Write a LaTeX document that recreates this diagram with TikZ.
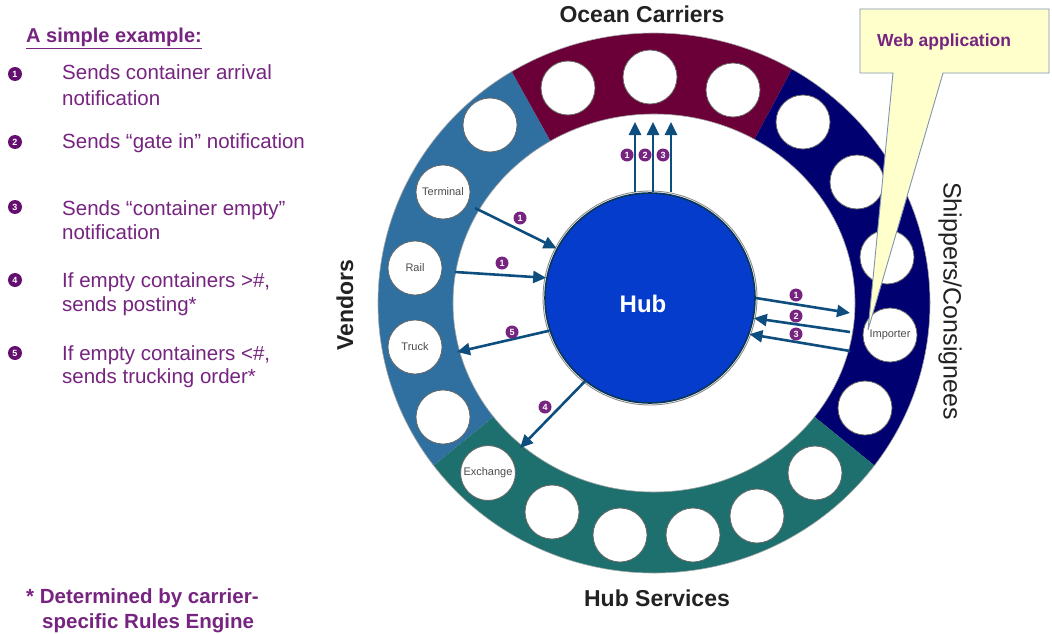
\documentclass[tikz,border=0pt]{standalone}
\usepackage{fontspec}
\setmainfont{Liberation Sans}
\usetikzlibrary{arrows.meta}
\definecolor{ptext}{RGB}{118,36,128}
\definecolor{pdark}{RGB}{100,14,112}
\definecolor{vendc}{RGB}{48,112,160}
\definecolor{oceanc}{RGB}{107,0,56}
\definecolor{shipc}{RGB}{0,0,112}
\definecolor{svcc}{RGB}{30,112,110}
\definecolor{hubc}{RGB}{6,60,204}
\definecolor{arrc}{RGB}{14,78,126}
\definecolor{callfill}{RGB}{255,255,204}
\definecolor{callline}{RGB}{128,148,176}
\definecolor{headc}{RGB}{34,34,34}
\begin{document}
\begin{tikzpicture}[x=1pt,y=-1pt,
  slot/.style={circle,draw=black!60,line width=0.8pt,fill=white,minimum size=54pt,inner sep=0pt,
    font=\fontsize{11}{11}\selectfont,text=black!70},
  flow/.style={draw=arrc,line width=2.6pt,-{Triangle[length=13pt,width=12pt]}},
  num/.style={circle,fill=ptext,text=white,inner sep=0pt,minimum size=13pt,
    font=\fontsize{9}{9}\selectfont\bfseries},
  bul/.style={circle,fill=pdark,text=white,inner sep=0pt,minimum size=14pt,
    font=\fontsize{9}{9}\selectfont\bfseries},
  itemtxt/.style={anchor=base west,inner sep=0pt,text=ptext,font=\fontsize{20.5}{24}\selectfont},
  foot/.style={anchor=base west,inner sep=0pt,text=ptext,font=\fontsize{20.5}{24}\selectfont\bfseries},
  heading/.style={inner sep=0pt,text=headc,font=\fontsize{23}{26}\selectfont\bfseries},
  ringedge/.style={draw=black!35,line width=0.6pt},
]
\useasboundingbox (0,0) rectangle (1052,634);
\fill[white] (0,0) rectangle (1052,634);

% ---------- ring sectors ----------
\begin{scope}[shift={(654,303)}]
  \fill[vendc] (-121:276 and 270) arc[start angle=-121,end angle=-217,x radius=276,y radius=270]
     -- (-217:201 and 189) arc[start angle=-217,end angle=-121,x radius=201,y radius=189] -- cycle;
  \fill[oceanc] (-60:276 and 270) arc[start angle=-60,end angle=-121,x radius=276,y radius=270]
     -- (-121:201 and 189) arc[start angle=-121,end angle=-60,x radius=201,y radius=189] -- cycle;
  \fill[shipc] (37:276 and 270) arc[start angle=37,end angle=-60,x radius=276,y radius=270]
     -- (-60:201 and 189) arc[start angle=-60,end angle=37,x radius=201,y radius=189] -- cycle;
  \fill[svcc] (-217:276 and 270) arc[start angle=-217,end angle=-323,x radius=276,y radius=270]
     -- (-323:201 and 189) arc[start angle=-323,end angle=-217,x radius=201,y radius=189] -- cycle;
  \draw[ringedge] (0,0) ellipse[x radius=276,y radius=270];
  \draw[ringedge] (0,0) ellipse[x radius=201,y radius=189];
\end{scope}

% ---------- slots ----------
\node[slot] (v1) at (490,125) {};
\node[slot] (terminal) at (443,192) {Terminal};
\node[slot] (rail) at (415,268) {Rail};
\node[slot] (truck) at (415,347) {Truck};
\node[slot] (v5) at (443,417) {};
\node[slot] (oc1) at (568,88) {};
\node[slot] (oc2) at (650,77) {};
\node[slot] (oc3) at (733,90) {};
\node[slot] (s1) at (803,122) {};
\node[slot] (s2) at (857,182) {};
\node[slot] (s3) at (887,257) {};
\node[slot] (importer) at (890,335) {Importer};
\node[slot] (s5) at (865,408) {};
\node[slot,inner sep=0pt,text width=54pt,align=center] (exchange) at (488,473) {\hspace*{-6pt}Exchange\hspace*{-6pt}};
\node[slot] (h2) at (552,512) {};
\node[slot] (h3) at (620,535) {};
\node[slot] (h4) at (693,535) {};
\node[slot] (h5) at (757,516) {};
\node[slot] (h6) at (815,473) {};

% ---------- hub ----------
\node[circle,fill=hubc,draw=arrc!70!black,line width=1.6pt,minimum size=210pt,inner sep=0pt] (hub) at (650,298) {};
\draw[black!45,line width=0.9pt] (hub.center) circle[radius=107];
\node[inner sep=0pt,text=white,font=\fontsize{24}{24}\selectfont\bfseries] (hubtxt) at (643,304) {Hub};

% ---------- connectors ----------
\coordinate (tT) at (475,208);
\coordinate (tR) at (455,272);
\coordinate (tK) at (457,352);
\coordinate (tX) at (520,448);
\coordinate (o1) at (635,122);
\coordinate (o2) at (653,122);
\coordinate (o3) at (671,122);
\coordinate (i1) at (850,313);
\coordinate (i2) at (850,332);
\coordinate (i3) at (850,351);

\draw[flow] (tT) -- (hub.152);
\draw[flow] (tR) -- (hub.169);
\draw[flow] (hub.198) -- (tK);
\draw[flow] (hub.232) -- (tX);
\draw[flow] (o1 |- hub.north) -- (o1);
\draw[flow] (o2 |- hub.north) -- (o2);
\draw[flow] (o3 |- hub.north) -- (o3);
\draw[flow] (hub.east) -- (i1);
\draw[flow] (i2) -- (hub.-11);
\draw[flow] (i3) -- (hub.-20);

\node[num] (nT) at (520,218) {1};
\node[num] (nR) at (502,263) {1};
\node[num] (nK) at (512,332) {5};
\node[num] (nX) at (545,407) {4};
\node[num] (nO1) at (627,155) {1};
\node[num] (nO2) at (645,155) {2};
\node[num] (nO3) at (663,155) {3};
\node[num] (nI1) at (796,295) {1};
\node[num] (nI2) at (796,316) {2};
\node[num] (nI3) at (796,334) {3};

% ---------- callout ----------
\draw[callline,fill=callfill,line width=0.9pt,line join=miter]
  (860,9) -- (1049,9) -- (1049,73) -- (943,73) -- (868,330) -- (893,73) -- (860,73) -- cycle;
\node[anchor=base west,inner sep=0pt,text=ptext,font=\fontsize{17.5}{20}\selectfont\bfseries]
  (web) at (877,47) {Web application};

% ---------- group headings ----------
\node[heading,anchor=base] (hOcean) at (642,23) {Ocean Carriers};
\node[heading,anchor=base] (hSvc) at (657,606) {Hub Services};
\node[heading,rotate=90] (hVend) at (345,305) {Vendors};
\node[inner sep=0pt,text=headc,font=\fontsize{25}{26}\selectfont,rotate=-90] (hShip) at (950,301) {Shippers/Consignees};

% ---------- legend ----------
\node[anchor=base west,inner sep=0pt,text=ptext,font=\fontsize{20}{24}\selectfont\bfseries]
  (title) at (26,43) {\underline{A simple example:}};
\node[bul] (b1) at (15,74) {1};
\node[bul] (b2) at (15,142) {2};
\node[bul] (b3) at (15,207) {3};
\node[bul] (b4) at (15,280) {4};
\node[bul] (b5) at (15,353) {5};
\node[itemtxt] (t1a) at (62,80) {Sends container arrival};
\node[itemtxt] (t1b) at (62,105) {notification};
\node[itemtxt] (t2a) at (62,148) {Sends “gate in” notification};
\node[itemtxt] (t3a) at (62,215) {Sends “container empty”};
\node[itemtxt] (t3b) at (62,239) {notification};
\node[itemtxt] (t4a) at (62,287) {If empty containers >\#,};
\node[itemtxt] (t4b) at (62,311) {sends posting*};
\node[itemtxt] (t5a) at (62,360) {If empty containers <\#,};
\node[itemtxt] (t5b) at (62,383) {sends trucking order*};
\node[foot] (f1) at (26,603) {* Determined by carrier-};
\node[foot] (f2) at (42,628) {specific Rules Engine};
\end{tikzpicture}
\end{document}
